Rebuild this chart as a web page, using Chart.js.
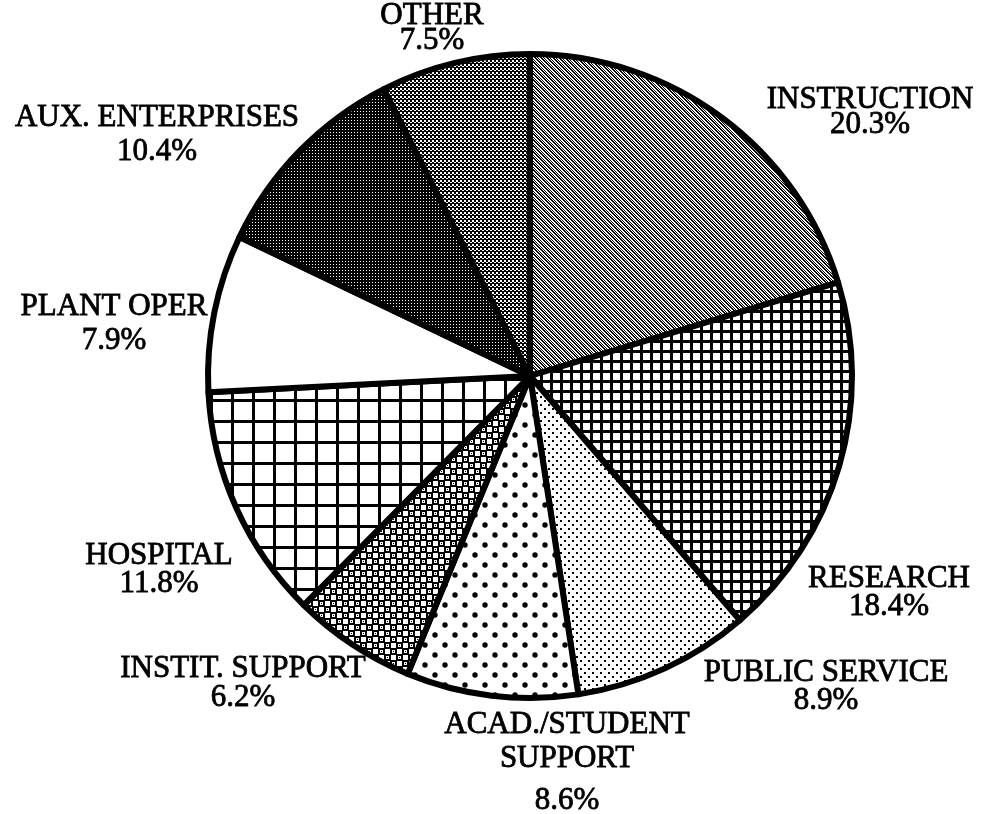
<!DOCTYPE html>
<html>
<head>
<meta charset="utf-8">
<script src="https://cdn.jsdelivr.net/npm/chart.js@4.4.1/dist/chart.umd.min.js"></script>
<style>
  html, body { margin: 0; padding: 0; background: #fff; }
  canvas { display: block; }
</style>
</head>
<body>
<canvas id="pieChart" width="993" height="814"></canvas>
<script>
// data
const categories = ['INSTRUCTION', 'RESEARCH', 'PUBLIC SERVICE', 'ACAD./STUDENT SUPPORT', 'INSTIT. SUPPORT', 'HOSPITAL', 'PLANT OPER', 'AUX. ENTERPRISES', 'OTHER'];
const shares = [20.3, 18.4, 8.9, 8.6, 6.2, 11.8, 7.9, 10.4, 7.5];
const labelLines = [['INSTRUCTION'], ['RESEARCH'], ['PUBLIC SERVICE'], ['ACAD./STUDENT', 'SUPPORT'], ['INSTIT. SUPPORT'], ['HOSPITAL'], ['PLANT OPER'], ['AUX. ENTERPRISES'], ['OTHER']];

// where each label block sits, relative to the pie centre (px), and the gaps between its lines
const labelSpots = [
  {dx: 340, dy: -264, gaps: [25]},
  {dx: 359, dy: 217, gaps: [28]},
  {dx: 296, dy: 311, gaps: [28]},
  {dx: 37, dy: 387, gaps: [34, 42]},
  {dx: -287, dy: 307, gaps: [29]},
  {dx: -371, dy: 194, gaps: [28]},
  {dx: -416, dy: -52, gaps: [34]},
  {dx: -373, dy: -241, gaps: [34]},
  {dx: -98, dy: -348, gaps: [25]}
];

const ctx = document.getElementById('pieChart');
const c2d = ctx.getContext('2d');

function tile(size, draw) {
  const c = document.createElement('canvas');
  c.width = size; c.height = size;
  const g = c.getContext('2d');
  g.fillStyle = '#fff';
  g.fillRect(0, 0, size, size);
  g.fillStyle = '#000';
  draw(g, size);
  return c2d.createPattern(c, 'repeat');
}

const fills = [
  // instruction: fine diagonal hatch
  tile(6, (g) => { for (let x = 0; x < 6; x++) for (let y = 0; y < 6; y++) { const d = (x - y + 12) % 3; if (d === 0 || (d === 1 && (x + y) % 2 === 0)) g.fillRect(x, y, 1, 1); } }),
  // research: small grid
  tile(10, (g) => { g.fillRect(0, 0, 10, 3); g.fillRect(0, 0, 3, 10); }),
  // public service: small staggered dots
  tile(8, (g) => { g.fillRect(0, 0, 2, 2); g.fillRect(4, 4, 2, 2); }),
  // acad/student support: big sparse dots
  tile(20, (g) => {
    [[5, 5], [15, 15]].forEach(p => { g.beginPath(); g.arc(p[0], p[1], 2.7, 0, Math.PI * 2); g.fill(); });
  }),
  // instit. support: checkered small squares
  tile(12, (g) => {
    g.fillRect(0, 0, 12, 12);
    g.fillStyle = '#fff';
    g.fillRect(1, 1, 5, 5); g.fillRect(7, 7, 5, 5);
    g.fillRect(8, 2, 3, 3); g.fillRect(2, 8, 3, 3);
    g.fillStyle = '#000';
    g.fillRect(9, 3, 1, 1); g.fillRect(3, 9, 1, 1);
  }),
  // hospital: large grid
  tile(21, (g) => { g.fillRect(0, 0, 21, 3); g.fillRect(0, 0, 3, 21); }),
  // plant oper: plain white
  '#ffffff',
  // aux. enterprises: dark dotted
  tile(3, (g) => { g.fillRect(0, 0, 3, 3); g.fillStyle = '#fff'; g.fillRect(0, 0, 1, 1); }),
  // other: medium grey stipple
  tile(4, (g) => { g.fillRect(0, 0, 4, 4); g.fillStyle = '#fff'; g.fillRect(0, 0, 2, 2); g.fillRect(2, 2, 2, 1); })
];

const outsideLabels = {
  id: 'outsideLabels',
  afterDraw(chart) {
    const arc = chart.getDatasetMeta(0).data[0];
    const cx = arc.x, cy = arc.y;
    const g = chart.ctx;
    g.save();
    g.fillStyle = '#000';
    g.font = '31px "Liberation Serif", "Times New Roman", serif';
    g.textAlign = 'center';
    g.textBaseline = 'middle';
    // scanned print is a bit heavy: give the glyphs a thin outline
    g.strokeStyle = '#000';
    g.lineWidth = 0.8;
    shares.forEach((v, i) => {
      const lines = labelLines[i].concat([v.toFixed(1) + '%']);
      const spot = labelSpots[i];
      let total = 0;
      spot.gaps.forEach(s => total += s);
      let y = cy + spot.dy - total / 2;
      lines.forEach((t, k) => {
        g.fillText(t, cx + spot.dx, y);
        g.strokeText(t, cx + spot.dx, y);
        if (k < spot.gaps.length) y += spot.gaps[k];
      });
    });
    g.restore();
  }
};

new Chart(ctx, {
  type: 'pie',
  data: {
    labels: categories,
    datasets: [{
      data: shares,
      backgroundColor: fills,
      borderColor: '#000',
      borderWidth: 6,
      borderJoinStyle: 'round'
    }]
  },
  options: {
    responsive: false,
    animation: false,
    radius: 322,
    layout: { padding: { left: 208, right: 141, top: 54, bottom: 116 } },
    plugins: {
      legend: { display: false },
      tooltip: { enabled: false }
    }
  },
  plugins: [outsideLabels]
});
</script>
</body>
</html>
